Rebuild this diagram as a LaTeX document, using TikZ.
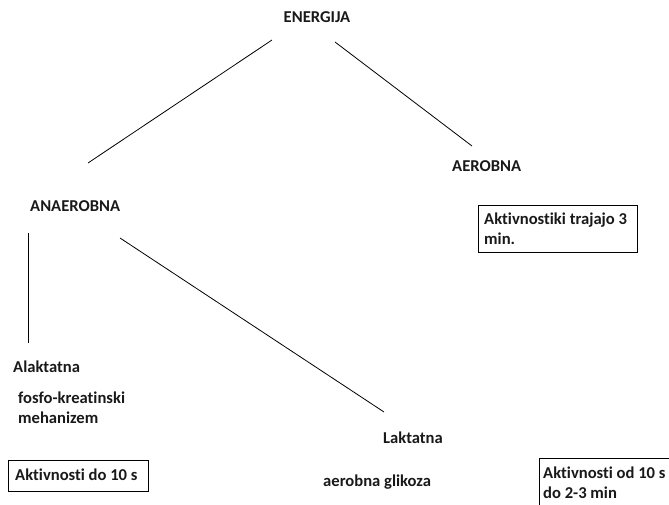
\documentclass[tikz,border=0pt]{standalone}
\usepackage{fontspec}
\setmainfont[Ligatures={NoCommon}]{Carlito}
\begin{document}
\begin{tikzpicture}[x=1pt,y=-1pt,
  lbl/.style={font=\bfseries\fontsize{16.6}{20}\selectfont, inner sep=0pt, anchor=west, text=black!90},
  conn/.style={line width=0.8pt}]
\useasboundingbox (0,0) rectangle (669,505);
\clip (0,0) rectangle (669,505);
\node[lbl, anchor=center] (energija) at (317,17) {ENERGIJA};
\node[lbl] (anaerobna) at (30,206) {ANAEROBNA};
\node[lbl] (aerobna) at (452,166) {AEROBNA};
% box aerobna
\draw[line width=1pt] (478,206) rectangle (637,252);
\node[lbl, align=left] (akt3) at (484,229) {Aktivnostiki trajajo 3\\min.};
\node[lbl] (alak) at (13,367) {Alaktatna};
\node[lbl, align=left] (fosfo) at (18,408) {fosfo-kreatinski\\mehanizem};
\draw[line width=1pt] (8,460) rectangle (148,491);
\node[lbl] (akt10) at (15,475) {Aktivnosti do 10 s};
\node[lbl] (lakt) at (383,438) {Laktatna};
\node[lbl] (glik) at (323,482) {aerobna glikoza};
\draw[line width=1pt] (539,458) rectangle (700,520);
\node[lbl, align=left] (akt1023) at (543,483) {Aktivnosti od 10 s\\do 2-3 min};
% connectors
\coordinate (e1) at (272,40);
\coordinate (a1) at (88,163);
\coordinate (e2) at (335,42);
\coordinate (b1) at (472,146);
\coordinate (n1) at (28,233);
\coordinate (l1) at (28,343);
\coordinate (n2) at (120,238);
\coordinate (k1) at (384,412);
\draw[conn] (e1) -- (a1);
\draw[conn] (e2) -- (b1);
\draw[conn] (n1) -- (l1);
\draw[conn] (n2) -- (k1);
\end{tikzpicture}
\end{document}
